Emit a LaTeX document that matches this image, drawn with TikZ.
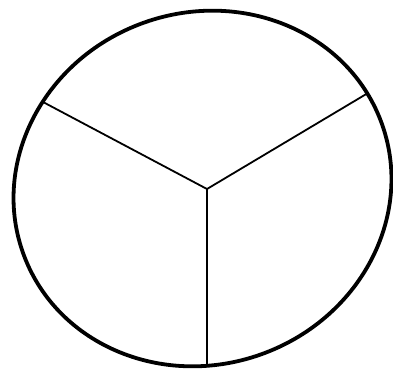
\documentclass[tikz,border=0pt]{standalone}
\begin{document}
\begin{tikzpicture}[x=1pt,y=-1pt,
  rim/.style={line width=3.8pt},
  divider/.style={line width=1.8pt}]
\useasboundingbox (0,0) rectangle (393,370);
\coordinate (o) at (202.5,188.5);
\draw[rim, rotate around={20.6:(o)}] (o) ellipse [x radius=190.7, y radius=175.9];
\coordinate (c) at (207,189);
\coordinate (l) at (43,102);
\coordinate (r) at (368,93);
\coordinate (b) at (207,364);
\draw[divider] (c) -- (l);
\draw[divider] (c) -- (r);
\draw[divider] (c) -- (b);
\end{tikzpicture}
\end{document}
